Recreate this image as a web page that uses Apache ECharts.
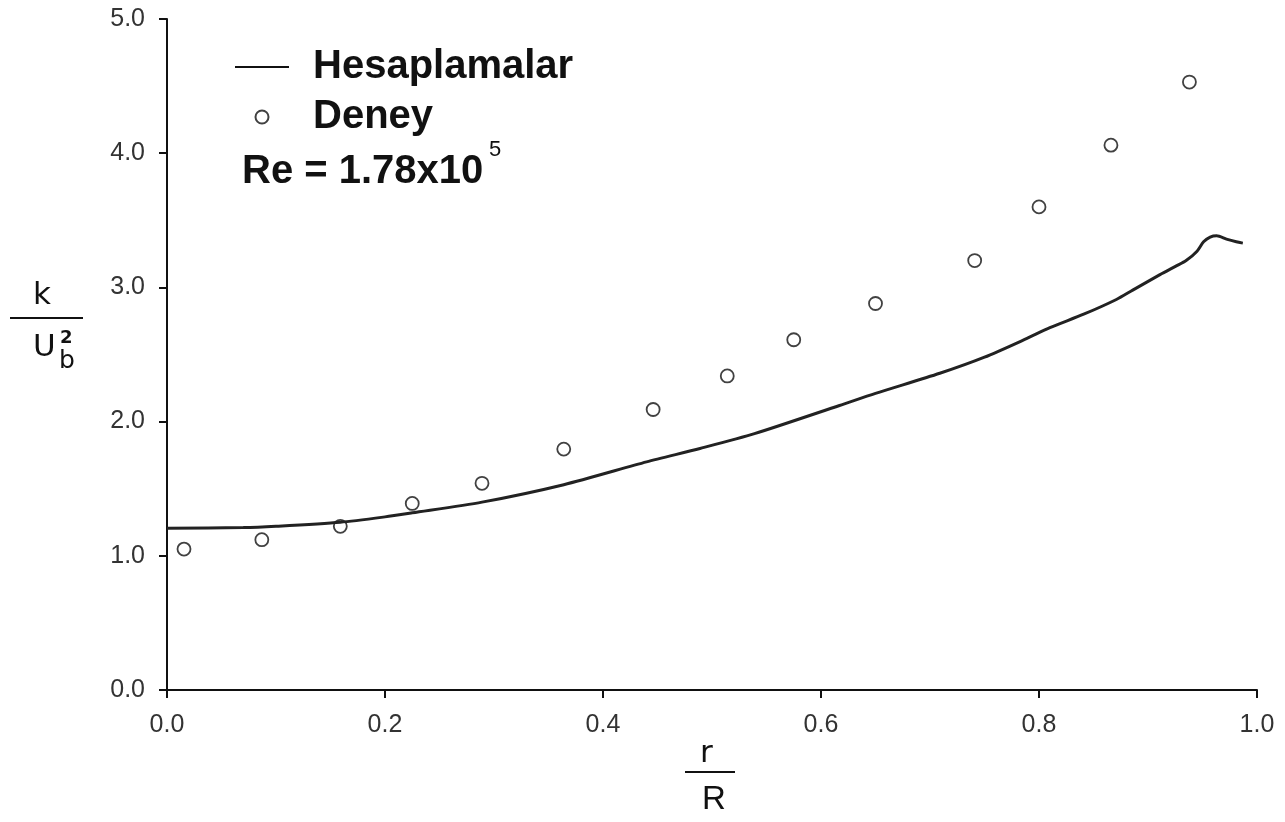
<!DOCTYPE html>
<html>
<head>
<meta charset="utf-8">
<script src="https://cdn.jsdelivr.net/npm/echarts@6/dist/echarts.min.js"></script>
<style>
html,body{margin:0;padding:0;background:#fff;}
#chart{width:1285px;height:822px;}
</style>
</head>
<body>
<div id="chart"></div>
<script>
// Hesaplamalar (computed curve)
var curveX = [0, 0.07, 0.1, 0.159, 0.2, 0.225, 0.289, 0.364, 0.44, 0.489, 0.539, 0.617, 0.65, 0.709, 0.75, 0.789, 0.81, 0.841, 0.871, 0.886, 0.911, 0.926, 0.935, 0.945, 0.951, 0.957, 0.963, 0.972, 0.981, 0.987];
var curveY = [1.205, 1.21, 1.22, 1.25, 1.29, 1.32, 1.40, 1.53, 1.70, 1.80, 1.91, 2.12, 2.21, 2.36, 2.48, 2.62, 2.70, 2.80, 2.91, 2.98, 3.095, 3.16, 3.20, 3.27, 3.34, 3.375, 3.385, 3.36, 3.34, 3.33];
// Deney (experiment)
var expX = [0.0156, 0.087, 0.159, 0.225, 0.289, 0.364, 0.446, 0.514, 0.575, 0.650, 0.741, 0.800, 0.866, 0.938];
var expY = [1.05, 1.12, 1.22, 1.39, 1.54, 1.795, 2.09, 2.34, 2.61, 2.88, 3.20, 3.60, 4.06, 4.53];
var seriesNames = ['Hesaplamalar', 'Deney'];
var reText = 'Re = 1.78x10';
var reExp = '5';

function zip(a, b) { return a.map(function (v, i) { return [v, b[i]]; }); }

var chart = echarts.init(document.getElementById('chart'), null, {renderer: 'canvas'});
var tickFont = {fontFamily: 'Liberation Sans', fontSize: 25, color: '#333'};
chart.setOption({
  animation: false,
  backgroundColor: '#fff',
  grid: {left: 167, right: 28, top: 19, bottom: 132},
  xAxis: {
    type: 'value', min: 0, max: 1, interval: 0.2,
    axisLine: {show: true, lineStyle: {color: '#111', width: 2}},
    axisTick: {show: true, length: 8, lineStyle: {color: '#111', width: 2}},
    splitLine: {show: false},
    axisLabel: Object.assign({margin: 23, formatter: function (v) { return v.toFixed(1); }}, tickFont)
  },
  yAxis: {
    type: 'value', min: 0, max: 5, interval: 1,
    axisLine: {show: true, lineStyle: {color: '#111', width: 2}},
    axisTick: {show: true, length: 8, lineStyle: {color: '#111', width: 2}},
    splitLine: {show: false},
    axisLabel: Object.assign({margin: 22, formatter: function (v) { return v.toFixed(1); }}, tickFont)
  },
  legend: {
    orient: 'vertical', left: 235, top: 47, padding: 0,
    itemWidth: 54, itemHeight: 13, itemGap: 10,
    textStyle: {fontFamily: 'Liberation Sans', fontWeight: 'bold', fontSize: 40, lineHeight: 40, color: '#111', padding: [0, 0, 0, 19]},
    data: [
      {name: seriesNames[0], icon: 'path://M0,0L54,0L54,2L0,2Z', itemStyle: {color: '#111'}},
      {name: seriesNames[1]}
    ]
  },
  series: [
    {
      name: seriesNames[0], type: 'line', data: zip(curveX, curveY),
      smooth: 0.25, symbol: 'none', showSymbol: false,
      lineStyle: {color: '#222', width: 3}, itemStyle: {color: '#222'}
    },
    {
      name: seriesNames[1], type: 'scatter', data: zip(expX, expY),
      symbol: 'circle', symbolSize: 13,
      itemStyle: {color: '#fff', borderColor: '#111', borderWidth: 1.8}
    }
  ],
  graphic: [
    {type: 'text', left: 242, top: 152, style: {text: reText, font: 'bold 40px "Liberation Sans"', fill: '#111'}},
    {type: 'text', left: 489, top: 139, style: {text: reExp, font: '22px "Liberation Sans"', fill: '#111'}},
    // y-axis name: k / U_b^2
    {type: 'text', left: 33, top: 280, style: {text: 'k', font: '31px "DejaVu Sans"', fill: '#111'}},
    {type: 'line', shape: {x1: 10, y1: 318, x2: 83, y2: 318}, style: {stroke: '#111', lineWidth: 2}},
    {type: 'text', left: 33, top: 332, style: {text: 'U', font: '31px "DejaVu Sans"', fill: '#111'}},
    {type: 'text', left: 60, top: 329, style: {text: '2', font: 'bold 18px "DejaVu Sans"', fill: '#111'}},
    {type: 'text', left: 59, top: 349, style: {text: 'b', font: '25px "DejaVu Sans"', fill: '#111'}},
    // x-axis name: r / R
    {type: 'text', left: 700, top: 738, style: {text: 'r', font: '31px "DejaVu Sans"', fill: '#111'}},
    {type: 'line', shape: {x1: 685, y1: 772, x2: 735, y2: 772}, style: {stroke: '#111', lineWidth: 2}},
    {type: 'text', left: 702, top: 783, style: {text: 'R', font: '33px "Liberation Sans"', fill: '#111'}}
  ]
});
</script>
</body>
</html>
